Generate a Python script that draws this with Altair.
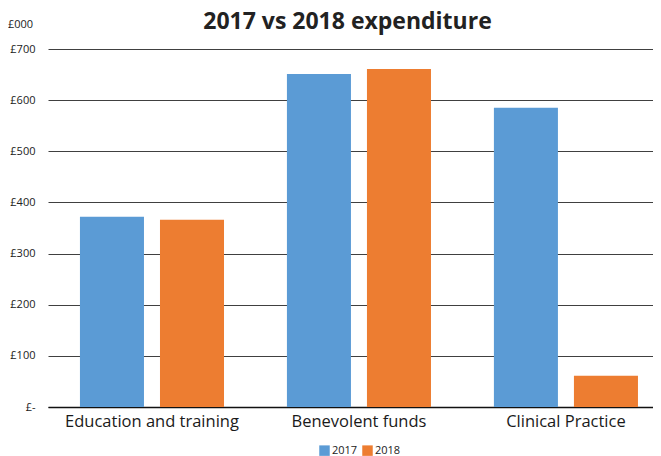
import altair as alt
import pandas as pd

categories = ["Education and training", "Benevolent funds", "Clinical Practice"]
years = ["2017", "2018"]
values_2017 = [372, 651, 585]
values_2018 = [366, 661, 61]
y_ticks = [0, 100, 200, 300, 400, 500, 600, 700]
unit_label = ["£000"]

rows = []
for c, a, b in zip(categories, values_2017, values_2018):
    rows.append({"category": c, "year": "2017", "value": a})
    rows.append({"category": c, "year": "2018", "value": b})
df = pd.DataFrame(rows)

FONT = "Open Sans"

bars = alt.Chart(df).mark_bar().encode(
    x=alt.X("category:N", sort=categories,
            scale=alt.Scale(paddingInner=0.304, paddingOuter=0.1135, align=0.68),
            axis=alt.Axis(title=None, labelAngle=0, labelFontSize=16.5, labelColor="#1a1a1a",
                          labelFont=FONT, labelPadding=6, ticks=False, domain=True,
                          domainColor="#111111", domainWidth=1.5, grid=False)),
    xOffset=alt.XOffset("year:N", sort=years, scale=alt.Scale(paddingInner=0.2, paddingOuter=0)),
    y=alt.Y("value:Q", scale=alt.Scale(domain=[0, 700], nice=False),
            axis=alt.Axis(values=y_ticks, grid=True, gridColor="#404040", gridWidth=1,
                          ticks=False, domain=False, labelFontSize=11, labelColor="#222222",
                          labelFont=FONT, labelPadding=13, title=None,
                          labelExpr="datum.value == 0 ? '£-\u2007' : '£' + datum.value")),
    color=alt.Color("year:N", sort=years,
                    scale=alt.Scale(domain=years, range=["#5B9BD5", "#ED7D31"]),
                    legend=alt.Legend(title=None, orient="none", legendX=271, legendY=396,
                                      direction="horizontal", symbolType="square",
                                      symbolSize=110, symbolStrokeWidth=0, labelFontSize=11,
                                      labelFont=FONT, labelColor="#222222", columnPadding=4,
                                      labelOffset=2, padding=0)),
)

unit = alt.Chart(pd.DataFrame({"t": unit_label})).mark_text(
    align="left", baseline="middle", fontSize=11, font=FONT, color="#222222"
).encode(text="t:N", x=alt.value(-40), y=alt.value(-24))

chart = alt.layer(bars, unit).properties(
    width=605,
    height=358,
    title=alt.Title("2017 vs 2018 expenditure", fontSize=23, font=FONT, fontWeight="bold",
                    color="#222222", anchor="middle", frame="group", baseline="alphabetic",
                    offset=-33, dx=-3),
    autosize=alt.AutoSizeParams(type="none"),
    padding={"left": 40, "top": 41, "right": 0, "bottom": 49},
).configure_view(stroke=None)

chart.save("out.html", embed_options={"renderer": "svg", "actions": False})
